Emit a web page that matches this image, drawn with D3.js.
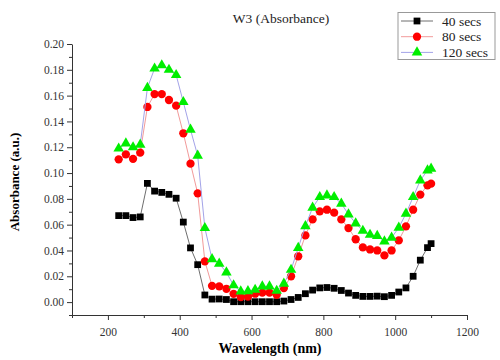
<!DOCTYPE html>
<html>

<head>
    <title>W3 (Absorbance)</title>
    <style>
        body {
            margin: 0;
            background: #fff;
        }
    </style>
    <script src="https://d3js.org/d3.v7.min.js"></script>
</head>

<body>
    <svg width="500" height="360" font-family="Liberation Serif, Times New Roman, serif"></svg>

    <script>

        // wavelengths (nm): 230..1090 every 20, then 1100
        var wavelengths = [230, 250, 270, 290, 310, 330, 350, 370, 390, 410,
            430, 450, 470, 490, 510, 530, 550, 570, 590, 610,
            630, 650, 670, 690, 710, 730, 750, 770, 790, 810,
            830, 850, 870, 890, 910, 930, 950, 970, 990, 1010,
            1030, 1050, 1070, 1090, 1100];

        var secs40 = [0.067, 0.067, 0.0655, 0.066, 0.092, 0.086, 0.085, 0.0835, 0.0805, 0.062,
            0.042, 0.029, 0.0055, 0.0023, 0.0024, 0.002, 0.0003, 0.0003, 0.0003, 0.0003,
            0.0003, 0.0003, 0.0003, 0.0008, 0.002, 0.0036, 0.0065, 0.0093, 0.011, 0.0113,
            0.0107, 0.009, 0.007, 0.0052, 0.0044, 0.0044, 0.0046, 0.0042, 0.0052, 0.0078,
            0.011, 0.020, 0.0325, 0.0422, 0.0453];

        var secs80 = [0.1106, 0.1145, 0.111, 0.1158, 0.1512, 0.1612, 0.1612, 0.1566, 0.1522, 0.1308,
            0.1073, 0.0843, 0.0316, 0.0126, 0.0122, 0.0103, 0.0064, 0.0039, 0.0042, 0.0065,
            0.0073, 0.0073, 0.0057, 0.0109, 0.020, 0.0355, 0.0517, 0.0641, 0.0703, 0.0716,
            0.0693, 0.0641, 0.0574, 0.0487, 0.0424, 0.0408, 0.040, 0.0362, 0.040, 0.0478,
            0.0587, 0.0716, 0.0833, 0.0905, 0.0918];

        var secs120 = [0.119, 0.123, 0.120, 0.122, 0.166, 0.181, 0.1835, 0.180, 0.176, 0.155,
            0.1336, 0.1135, 0.0574, 0.0333, 0.0298, 0.023, 0.013, 0.0083, 0.0085, 0.0096,
            0.0122, 0.0122, 0.0088, 0.0143, 0.025, 0.042, 0.0589, 0.0732, 0.0814, 0.0827,
            0.0814, 0.0763, 0.068, 0.061, 0.0553, 0.0522, 0.0513, 0.047, 0.0499, 0.0577,
            0.0685, 0.0814, 0.0943, 0.1021, 0.1034];

        var seriesNames = ["40 secs", "80 secs", "120 secs"];
        var xTicks = [200, 400, 600, 800, 1000, 1200];
        var yTicks = [0.00, 0.02, 0.04, 0.06, 0.08, 0.10, 0.12, 0.14, 0.16, 0.18, 0.20];

        var series = [
            { name: seriesNames[0], values: secs40, line: "#6e6e6e", fill: "#000", shape: d3.symbolSquare, size: 46 },
            { name: seriesNames[1], values: secs80, line: "#f29a9a", fill: "#ff0000", shape: d3.symbolCircle, size: 54 },
            { name: seriesNames[2], values: secs120, line: "#a3a3e8", fill: "#00ee00", shape: d3.symbolTriangle, size: 48 }
        ];

        var svg = d3.select("svg");
        var serif = "Liberation Serif, Times New Roman, serif";

        var x = d3.scaleLinear().domain([100, 1200]).range([72, 467]);
        var y = d3.scaleLinear().domain([-0.01, 0.20]).range([315, 44]);

        // axes, ticks outward like Origin
        var xAxis = svg.append("g")
            .attr("transform", "translate(0,315)")
            .call(d3.axisBottom(x).tickValues(xTicks).tickSize(5).tickSizeOuter(0).tickFormat(d3.format("d")));

        svg.append("g")
            .attr("transform", "translate(0,315)")
            .call(d3.axisBottom(x).tickValues([100, 300, 500, 700, 900, 1100]).tickSize(3).tickFormat(""))
            .select(".domain").remove();

        var yAxis = svg.append("g")
            .attr("transform", "translate(72,0)")
            .call(d3.axisLeft(y).tickValues(yTicks).tickSize(5).tickSizeOuter(0).tickFormat(d3.format(".2f")));

        svg.append("g")
            .attr("transform", "translate(72,0)")
            .call(d3.axisLeft(y).tickValues([-0.01, 0.01, 0.03, 0.05, 0.07, 0.09, 0.11, 0.13, 0.15, 0.17, 0.19]).tickSize(3).tickFormat(""))
            .select(".domain").remove();

        xAxis.attr("font-family", serif).attr("font-size", 11.5);
        yAxis.attr("font-family", serif).attr("font-size", 11.5);
        svg.selectAll(".domain, .tick line").attr("stroke", "#333").attr("stroke-width", 1);
        svg.selectAll(".tick text").attr("fill", "#333");
        xAxis.selectAll(".tick text").attr("dy", "1.1em");

        // lines + markers
        var line = d3.line()
            .x(function (d, i) { return x(wavelengths[i]); })
            .y(function (d) { return y(d); });

        series.forEach(function (s) {
            svg.append("path")
                .datum(s.values)
                .attr("fill", "none")
                .attr("stroke", s.line)
                .attr("stroke-width", 1)
                .attr("d", line);

            svg.append("g").selectAll("path")
                .data(s.values)
                .enter().append("path")
                .attr("d", d3.symbol().type(s.shape).size(s.size))
                .attr("transform", function (d, i) {
                    return "translate(" + x(wavelengths[i]) + "," + y(d) + ")";
                })
                .attr("fill", s.fill);
        });

        // title and axis labels
        svg.append("text")
            .attr("x", 281).attr("y", 23)
            .attr("text-anchor", "middle")
            .attr("font-size", 13.5)
            .attr("fill", "#222")
            .text("W3 (Absorbance)");

        svg.append("text")
            .attr("x", 270).attr("y", 353)
            .attr("text-anchor", "middle")
            .attr("font-size", 14)
            .attr("font-weight", "bold")
            .text("Wavelength (nm)");

        svg.append("text")
            .attr("transform", "translate(19,182) rotate(-90)")
            .attr("text-anchor", "middle")
            .attr("font-size", 13)
            .attr("font-weight", "bold")
            .text("Absorbance (a.u.)");

        // legend
        var legend = svg.append("g");
        legend.append("rect")
            .attr("x", 398).attr("y", 12.5)
            .attr("width", 97).attr("height", 47)
            .attr("fill", "#fff")
            .attr("stroke", "#999");

        series.forEach(function (s, i) {
            var ly = 21 + i * 15.7;
            legend.append("line")
                .attr("x1", 401).attr("x2", 433)
                .attr("y1", ly).attr("y2", ly)
                .attr("stroke", s.line);
            legend.append("path")
                .attr("d", d3.symbol().type(s.shape).size(s.size))
                .attr("transform", "translate(417," + ly + ")")
                .attr("fill", s.fill);
            legend.append("text")
                .attr("x", 442).attr("y", ly + 4.5)
                .attr("font-size", 13.5)
                .attr("fill", "#222")
                .text(s.name);
        });

    </script>

</body>

</html>
